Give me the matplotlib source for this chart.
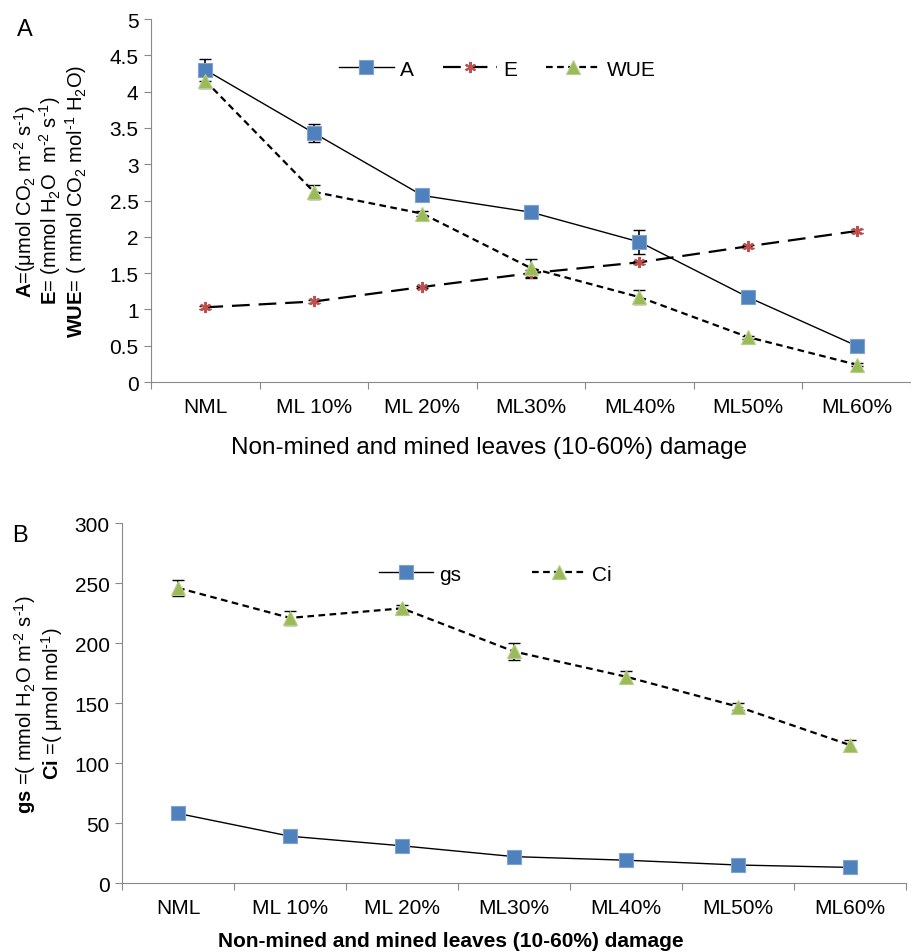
import matplotlib
matplotlib.use("Agg")
import matplotlib.pyplot as plt
import numpy as np

plt.rcParams['font.family'] = ['Liberation Sans', 'DejaVu Sans']
plt.rcParams['mathtext.fontset'] = 'custom'
plt.rcParams['mathtext.rm'] = 'Liberation Sans'
plt.rcParams['mathtext.it'] = 'Liberation Sans:italic'
plt.rcParams['mathtext.bf'] = 'Liberation Sans:bold'

cats = ["NML", "ML 10%", "ML 20%", "ML30%", "ML40%", "ML50%", "ML60%"]

# panel A
A = [4.30, 3.43, 2.57, 2.34, 1.93, 1.17, 0.50]
A_err = [0.15, 0.12, 0.03, 0.07, 0.17, 0.02, 0.02]
E = [1.03, 1.11, 1.31, 1.50, 1.65, 1.87, 2.08]
E_err = [0.02, 0.02, 0.02, 0.05, 0.02, 0.02, 0.03]
WUE = [4.15, 2.62, 2.32, 1.57, 1.17, 0.62, 0.24]
WUE_err = [0.10, 0.10, 0.03, 0.13, 0.10, 0.02, 0.02]

# panel B
gs = [58, 39, 31, 22, 19, 15, 13]
Ci = [246, 221, 229, 193, 172, 147, 115]
Ci_err = [7, 6, 3, 7, 5, 3, 4]

blue = '#4F81BD'
red = '#C0504D'
green = '#9BBB59'
grey = '#898989'

x = np.arange(1, len(cats) + 1)

fig = plt.figure(figsize=(9.11, 9.53), dpi=100)


def style_axes(ax):
    ax.spines['top'].set_visible(False)
    ax.spines['right'].set_visible(False)
    ax.spines['left'].set_color(grey)
    ax.spines['bottom'].set_color(grey)
    ax.set_xlim(0.5, len(cats) + 0.5)
    ax.set_xticks(np.arange(0.5, len(cats) + 1, 1))
    ax.set_xticklabels([])
    ax.set_xticks(x, minor=True)
    ax.set_xticklabels(cats, minor=True)
    ax.tick_params(axis='x', which='major', length=5, color=grey, direction='out')
    ax.tick_params(axis='x', which='minor', length=0, labelsize=15, pad=11)
    ax.tick_params(axis='y', length=5, color=grey, direction='out', labelsize=15, pad=4)


# ---------- panel A ----------
ax1 = fig.add_axes([0.1658, 0.598, 0.834, 0.381])
ax1.errorbar(x, A, yerr=A_err, fmt='none', capsize=4, ecolor='black', elinewidth=1.2, zorder=2)
ax1.errorbar(x, E, yerr=E_err, fmt='none', capsize=4, ecolor='black', elinewidth=1.2, zorder=2)
ax1.errorbar(x, WUE, yerr=WUE_err, fmt='none', capsize=4, ecolor='black', elinewidth=1.2, zorder=2)
ax1.plot(x, A, color='black', lw=1, marker='s', ms=10,
         mfc=blue, mec='#7FA3D0', mew=0.8, label='A', zorder=3)
ax1.plot(x, E, color='black', lw=1.6, dashes=(8, 4), marker=(6, 2, 0), ms=8,
         mec=red, mew=1.5, label='E', zorder=3)
ax1.plot(x, WUE, color='black', lw=1.6, dashes=(3, 2), marker='^', ms=10,
         mfc=green, mec='#B5CF86', mew=0.8, label='WUE', zorder=3)
ax1.set_ylim(0, 5)
ax1.set_yticks(np.arange(0, 5.01, 0.5))
ax1.set_yticklabels(['0', '0.5', '1', '1.5', '2', '2.5', '3', '3.5', '4', '4.5', '5'])
style_axes(ax1)
ax1.legend(loc='center', bbox_to_anchor=(0.456, 0.862), ncol=3, frameon=False,
           fontsize=15, handlelength=2.6, columnspacing=1.4, handletextpad=0.3)

fig.text(0.027, 0.789, r'$\mathbf{A}$=(μmol CO$_2$ m$^{\text{-2}}$ s$^{\text{-1}}$)', rotation=90,
         ha='center', va='center', fontsize=14.5)
fig.text(0.055, 0.789, r'$\mathbf{E}$= (mmol H$_2$O  m$^{\text{-2}}$ s$^{\text{-1}}$)', rotation=90,
         ha='center', va='center', fontsize=14.5)
fig.text(0.084, 0.789, r'$\mathbf{WUE}$= ( mmol CO$_2$ mol$^{\text{-1}}$ H$_2$O)', rotation=90,
         ha='center', va='center', fontsize=14.5)
fig.text(0.537, 0.530, 'Non-mined and mined leaves (10-60%) damage', ha='center',
         va='center', fontsize=17.5)
fig.text(0.027, 0.968, 'A', ha='center', va='center', fontsize=17)

# ---------- panel B ----------
ax2 = fig.add_axes([0.134, 0.0724, 0.8605, 0.3776])
ax2.errorbar(x, Ci, yerr=Ci_err, fmt='none', capsize=4, ecolor='black', elinewidth=1.2, zorder=2)
ax2.plot(x, gs, color='black', lw=1, marker='s', ms=10,
         mfc=blue, mec='#7FA3D0', mew=0.8, label='gs', zorder=3)
ax2.plot(x, Ci, color='black', lw=1.6, dashes=(3, 2), marker='^', ms=10,
         mfc=green, mec='#B5CF86', mew=0.8, label='Ci', zorder=3)
ax2.set_ylim(0, 300)
ax2.set_yticks(np.arange(0, 301, 50))
style_axes(ax2)
ax2.legend(loc='center', bbox_to_anchor=(0.476, 0.858), ncol=2, frameon=False,
           fontsize=15, handlelength=2.6, columnspacing=3.4, handletextpad=0.3)

fig.text(0.028, 0.261, r'$\mathbf{gs}$ =( mmol H$_2$O m$^{\text{-2}}$ s$^{\text{-1}}$)', rotation=90,
         ha='center', va='center', fontsize=14.5)
fig.text(0.057, 0.261, r'$\mathbf{Ci}$ =( μmol mol$^{\text{-1}}$)', rotation=90,
         ha='center', va='center', fontsize=14.5)
fig.text(0.495, 0.012, 'Non-mined and mined leaves (10-60%) damage', ha='center',
         va='center', fontsize=15, fontweight='bold')
fig.text(0.022, 0.438, 'B', ha='center', va='center', fontsize=17)

fig.savefig('out.png', dpi=100)
